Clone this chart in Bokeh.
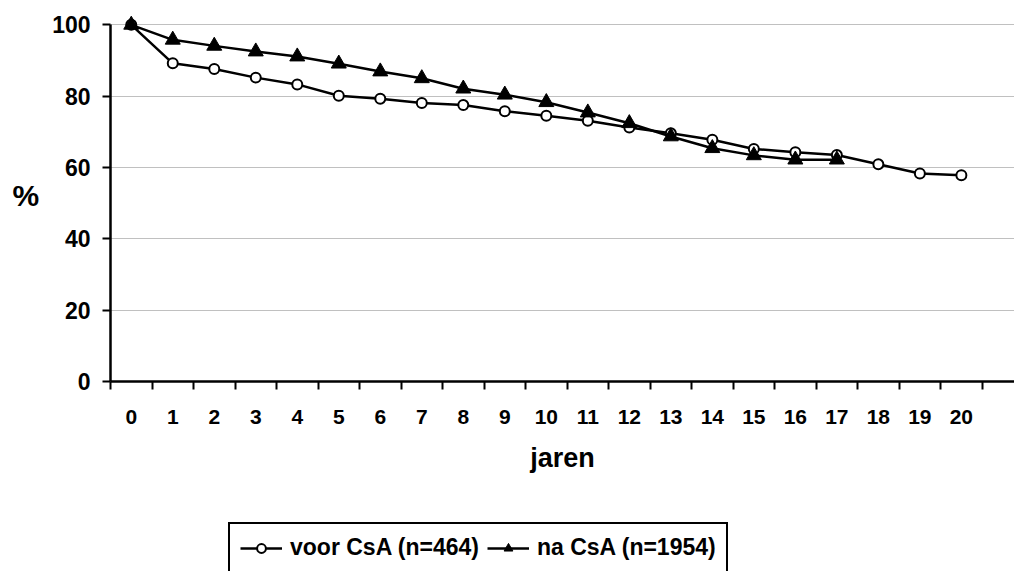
from bokeh.plotting import figure
from bokeh.layouts import column
from bokeh.models import Range1d, FixedTicker, Legend, LegendItem
from bokeh.embed import file_html
from bokeh.resources import INLINE

# jaren na transplantatie, overleving in %
years = list(range(21))
voor = [100, 89.2, 87.6, 85.2, 83.3, 80.1, 79.3, 78.1, 77.5, 75.8,
        74.5, 73.1, 71.2, 69.6, 67.8, 65.2, 64.3, 63.5, 60.9, 58.3, 57.8]
na = [100, 95.8, 94.1, 92.5, 91.1, 89.1, 86.9, 85.0, 82.1, 80.4,
      78.3, 75.4, 72.4, 68.7, 65.4, 63.4, 62.2, 62.2]
na_years = years[:len(na)]
y_ticks = [0, 20, 40, 60, 80, 100]
labels = ["voor CsA (n=464)", "na CsA (n=1954)"]

FONT = "Liberation Sans"

p = figure(frame_width=904, frame_height=372,
           output_backend="svg", toolbar_location=None,
           x_range=Range1d(-0.5, 21.28), y_range=Range1d(0, 104.3),
           min_border_left=110, min_border_right=0, min_border_top=9,
           min_border_bottom=0)
p.outline_line_color = None

# x axis: labels in the middle of each category, ticks between them
xax = p.xaxis[0]
xax.ticker = FixedTicker(ticks=years, minor_ticks=[y - 0.5 for y in range(23)])
xax.major_label_overrides = {y: str(y) for y in years}
xax.major_tick_line_color = None
xax.major_tick_out = 0
xax.major_tick_in = 0
xax.minor_tick_out = 8
xax.minor_tick_in = 0
xax.minor_tick_line_width = 2
xax.minor_tick_line_color = "black"
xax.axis_line_width = 2.5
xax.axis_line_color = "black"
xax.major_label_text_font = FONT
xax.major_label_text_font_style = "bold"
xax.major_label_text_font_size = "21px"
xax.major_label_text_color = "black"
xax.major_label_standoff = 20
xax.axis_label = "jaren"
xax.axis_label_text_font = FONT
xax.axis_label_text_font_style = "bold"
xax.axis_label_text_font_size = "27px"
xax.axis_label_text_color = "black"
xax.axis_label_standoff = 16

yax = p.yaxis[0]
yax.ticker = FixedTicker(ticks=y_ticks)
yax.bounds = (0, 100)
yax.major_tick_out = 8
yax.major_tick_in = 0
yax.major_tick_line_width = 2
yax.major_tick_line_color = "black"
yax.minor_tick_line_color = None
yax.axis_line_width = 2.5
yax.axis_line_color = "black"
yax.major_label_text_font = FONT
yax.major_label_text_font_style = "bold"
yax.major_label_text_font_size = "23px"
yax.major_label_text_color = "black"
yax.major_label_standoff = 12
yax.axis_label = "%"
yax.axis_label_orientation = "horizontal"
yax.axis_label_text_font = FONT
yax.axis_label_text_font_style = "bold"
yax.axis_label_text_font_size = "30px"
yax.axis_label_text_color = "black"
yax.axis_label_standoff = 10

p.xgrid.grid_line_color = None
p.ygrid.grid_line_color = "#808080"
p.ygrid.grid_line_dash = "1 1"
p.ygrid.grid_line_width = 1
p.ygrid.bounds = (0, 100)

line_style = dict(line_color="black", line_width=2.5)
circle_style = dict(marker="circle", size=10, fill_color="white",
                    line_color="black", line_width=2)
triangle_style = dict(marker="triangle", size=15, fill_color="black",
                      line_color="black", line_width=1)

p.line(years, voor, **line_style)
p.scatter(years, voor, **circle_style)
p.line(na_years, na, **line_style)
p.scatter(na_years, na, **triangle_style)

# legend strip below the chart; its ranges keep the series themselves out of view,
# they are only there so the legend has glyphs to draw
leg = figure(width=1014, height=98, output_backend="svg", toolbar_location=None,
             min_border=0, x_axis_type=None, y_axis_type=None,
             x_range=Range1d(1000, 1001), y_range=Range1d(1000, 1001))
leg.outline_line_color = None
leg.grid.grid_line_color = None
r1 = leg.line(years, voor, **line_style)
c1 = leg.scatter(years, voor, **circle_style)
r2 = leg.line(na_years, na, **line_style)
c2 = leg.scatter(na_years, na, **triangle_style)

legend = Legend(items=[LegendItem(label=labels[0], renderers=[r1, c1]),
                       LegendItem(label=labels[1], renderers=[r2, c2])],
                orientation="horizontal", location=(118, 0), margin=0)
legend.label_text_font = FONT
legend.label_text_font_style = "bold"
legend.label_text_font_size = "23px"
legend.label_text_color = "black"
legend.glyph_width = 42
legend.glyph_height = 22
legend.label_standoff = 8
legend.spacing = 8
legend.padding = 10
legend.border_line_color = "black"
legend.border_line_alpha = 1.0
legend.border_line_width = 2
legend.background_fill_alpha = 0
leg.add_layout(legend, "center")

open("out.html", "w").write(file_html(column(p, leg), INLINE))
